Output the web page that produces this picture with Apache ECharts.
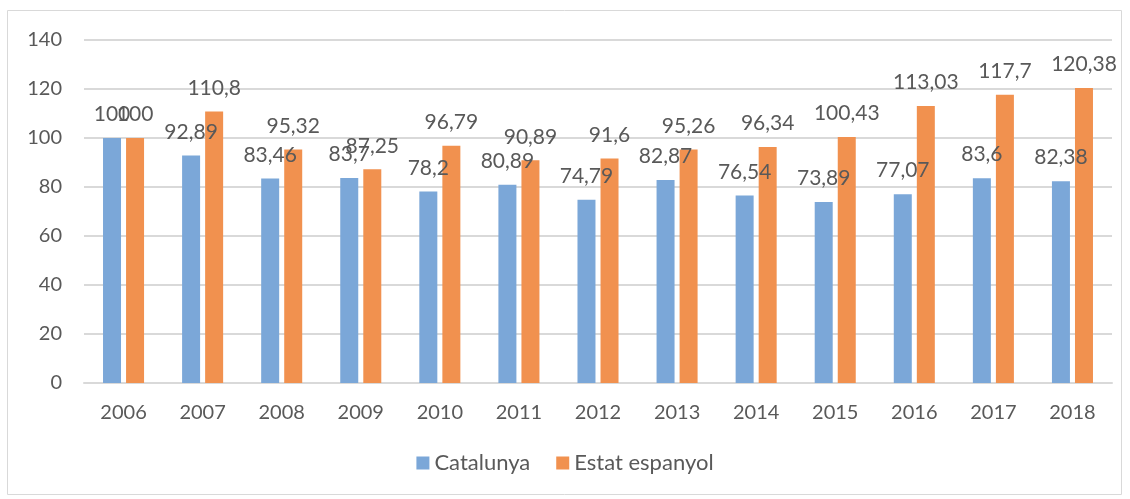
<!DOCTYPE html>
<html>
<head>
<meta charset="utf-8">
<script src="https://cdn.jsdelivr.net/npm/echarts@6/dist/echarts.min.js"></script>
<style>
  html, body { margin: 0; padding: 0; background: #fff; }
  #chart { width: 1130px; height: 499px; }
</style>
</head>
<body>
<div id="chart"></div>
<script>
const years = ["2006", "2007", "2008", "2009", "2010", "2011", "2012", "2013", "2014", "2015", "2016", "2017", "2018"];
const catalunya = [100, 92.89, 83.46, 83.7, 78.2, 80.89, 74.79, 82.87, 76.54, 73.89, 77.07, 83.6, 82.38];
const estat = [100, 110.8, 95.32, 87.25, 96.79, 90.89, 91.6, 95.26, 96.34, 100.43, 113.03, 117.7, 120.38];

const txt = "#595959";
const fontFamily = "Lato, 'Open Sans', sans-serif";

// values shown with a decimal comma
const commaLabel = (p) => String(p.value).replace(".", ",");

const labelStyle = {
    show: true,
    position: "top",
    distance: 13,
    fontSize: 21,
    color: txt,
    fontFamily: fontFamily,
    formatter: commaLabel,
};

const chart = echarts.init(document.getElementById("chart"));
chart.setOption({
    animation: false,
    textStyle: { fontFamily: fontFamily },
    graphic: [{
        type: "rect",
        shape: { x: 7.5, y: 10.5, width: 1114, height: 484 },
        style: { fill: "none", stroke: "#d9d9d9", lineWidth: 1 },
        silent: true,
    }],
    grid: { left: 84, right: 18, top: 40, bottom: 116 },
    legend: {
        bottom: 20,
        left: "center",
        itemWidth: 13,
        itemHeight: 13,
        itemGap: 26,
        icon: "rect",
        textStyle: { fontSize: 22, color: txt, fontFamily: fontFamily },
        data: ["Catalunya", "Estat espanyol"],
    },
    xAxis: {
        type: "category",
        data: years,
        axisLine: { lineStyle: { color: "#d9d9d9", width: 2 } },
        axisTick: { show: false },
        axisLabel: { fontSize: 20, color: txt, margin: 20 },
    },
    yAxis: {
        type: "value",
        min: 0,
        max: 140,
        interval: 20,
        axisLine: { show: false },
        axisTick: { show: false },
        axisLabel: { fontSize: 20, color: txt, margin: 22 },
        splitLine: { lineStyle: { color: "#d9d9d9", width: 2 } },
    },
    series: [
        {
            name: "Catalunya",
            type: "bar",
            data: catalunya,
            barWidth: 18,
            barGap: "28%",
            itemStyle: { color: "#7ba7d8" },
            label: labelStyle,
        },
        {
            name: "Estat espanyol",
            type: "bar",
            data: estat,
            barWidth: 18,
            itemStyle: { color: "#f1914f" },
            label: labelStyle,
        },
    ],
});
</script>
</body>
</html>
